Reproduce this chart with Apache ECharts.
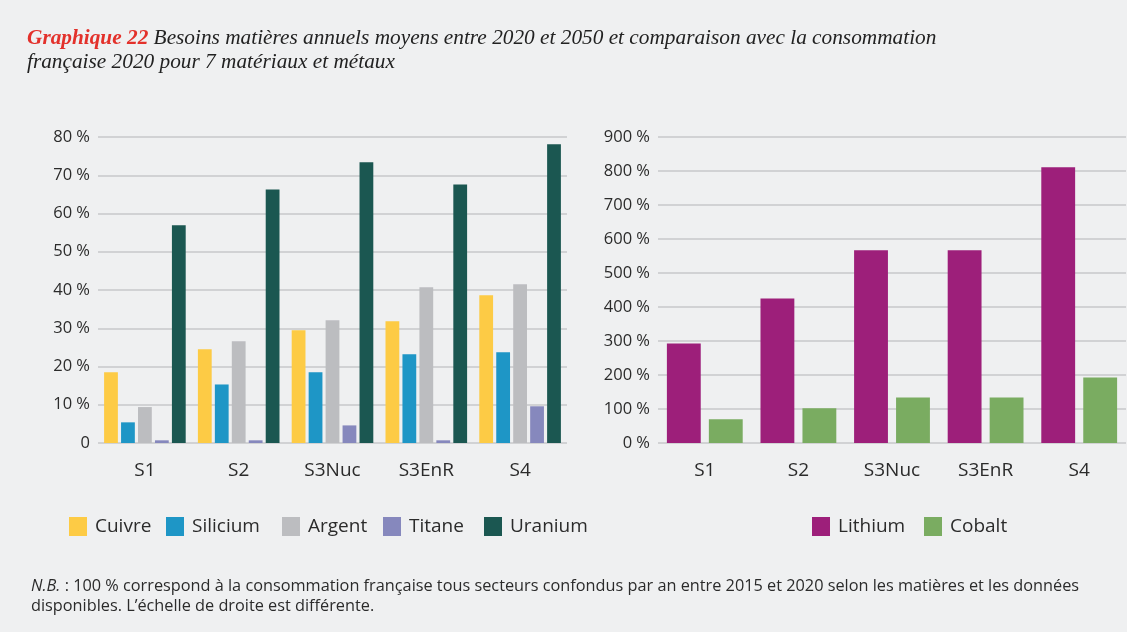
<!DOCTYPE html>
<html>
<head>
<meta charset="utf-8">
<script src="https://cdn.jsdelivr.net/npm/echarts@6/dist/echarts.min.js"></script>
<style>
  html, body { margin: 0; padding: 0; background: #eff0f1; }
  #chart { width: 1127px; height: 632px; }
</style>
</head>
<body>
<div id="chart"></div>
<script>
const scenarios = ['S1', 'S2', 'S3Nuc', 'S3EnR', 'S4']

// graphique de gauche (% de la conso française 2020)
const cuivre = [18.5, 24.5, 29.5, 31.8, 38.6]
const silicium = [5.4, 15.3, 18.5, 23.2, 23.7]
const argent = [9.4, 26.6, 32.1, 40.7, 41.5]
const titane = [0.7, 0.7, 4.6, 0.7, 9.6]
const uranium = [56.9, 66.3, 73.4, 67.6, 78.1]

// graphique de droite
const lithium = [293, 425, 567, 567, 811]
const cobalt = [70, 102, 134, 134, 193]

const leftTicks = { min: 0, max: 80, interval: 10 }
const rightTicks = { min: 0, max: 900, interval: 100 }

const axisFont = "'Open Sans', sans-serif"
const gridColor = '#d1d2d4'

// position (x) de chaque entrée de légende
const legendPos = {
  Cuivre: 69, Silicium: 166, Argent: 282, Titane: 383, Uranium: 484,
  Lithium: 812, Cobalt: 924
}

const chart = echarts.init(document.getElementById('chart'))

function bar (name, data, color, xi) {
  return {
    name,
    type: 'bar',
    data,
    xAxisIndex: xi,
    yAxisIndex: xi,
    itemStyle: { color },
    barGap: xi === 0 ? '23%' : '24%',
    barCategoryGap: xi === 0 ? '13%' : '19%'
  }
}

function yAxis (gi, ticks, zeroLabel) {
  return {
    type: 'value',
    gridIndex: gi,
    min: ticks.min,
    max: ticks.max,
    interval: ticks.interval,
    axisLine: { show: false },
    axisTick: { show: false },
    axisLabel: {
      margin: 8,
      color: '#2b2b2b',
      fontFamily: axisFont,
      fontSize: 16.5,
      formatter: v => (v === 0 ? zeroLabel : v + ' %')
    },
    splitLine: { lineStyle: { color: gridColor, width: 2 } }
  }
}

function xAxis (gi) {
  return {
    type: 'category',
    gridIndex: gi,
    data: scenarios,
    axisLine: { show: false },
    axisTick: { show: false },
    axisLabel: {
      margin: 18,
      color: '#2b2b2b',
      fontFamily: axisFont,
      fontSize: 19
    }
  }
}

const legends = Object.keys(legendPos).map(name => ({
  left: legendPos[name],
  top: 517,
  padding: 0,
  itemWidth: 18,
  itemHeight: 19,
  icon: 'rect',
  textStyle: {
    fontFamily: axisFont,
    fontSize: 19,
    color: '#2b2b2b',
    padding: [0, 0, 0, 3]
  },
  data: [name]
}))

chart.setOption({
  backgroundColor: '#eff0f1',
  animation: false,
  title: [{
    left: 27,
    top: 26,
    padding: 0,
    text: '{r|Graphique 22} Besoins matières annuels moyens entre 2020 et 2050 et comparaison avec la consommation\nfrançaise 2020 pour 7 matériaux et métaux',
    textStyle: {
      fontFamily: "'Liberation Serif', serif",
      fontStyle: 'italic',
      fontWeight: 'normal',
      fontSize: 21.3,
      lineHeight: 24,
      color: '#222',
      rich: {
        r: {
          fontFamily: "'Liberation Serif', serif",
          fontStyle: 'italic',
          fontWeight: 'bold',
          fontSize: 21.3,
          lineHeight: 24,
          color: '#e3312b'
        }
      }
    }
  }, {
    left: 31,
    top: 577,
    padding: 0,
    text: '{i|N.B.} : 100 % correspond à la consommation française tous secteurs confondus par an entre 2015 et 2020 selon les matières et les données\ndisponibles. L’échelle de droite est différente.',
    textStyle: {
      fontFamily: axisFont,
      fontWeight: 'normal',
      fontSize: 16.3,
      lineHeight: 19.5,
      color: '#2b2b2b',
      rich: {
        i: { fontFamily: axisFont, fontStyle: 'italic', fontSize: 16.3, lineHeight: 19.5, color: '#2b2b2b' }
      }
    }
  }],
  legend: legends,
  grid: [
    { left: 98, right: 560, top: 137, bottom: 189 },
    { left: 658, right: 1, top: 137, bottom: 189 }
  ],
  xAxis: [xAxis(0), xAxis(1)],
  yAxis: [yAxis(0, leftTicks, '0'), yAxis(1, rightTicks, '0 %')],
  series: [
    bar('Cuivre', cuivre, '#fdcb45', 0),
    bar('Silicium', silicium, '#1e96c6', 0),
    bar('Argent', argent, '#bcbdc0', 0),
    bar('Titane', titane, '#8688bd', 0),
    bar('Uranium', uranium, '#1b5751', 0),
    bar('Lithium', lithium, '#9d1f7a', 1),
    bar('Cobalt', cobalt, '#7aac61', 1)
  ]
})
</script>
</body>
</html>
